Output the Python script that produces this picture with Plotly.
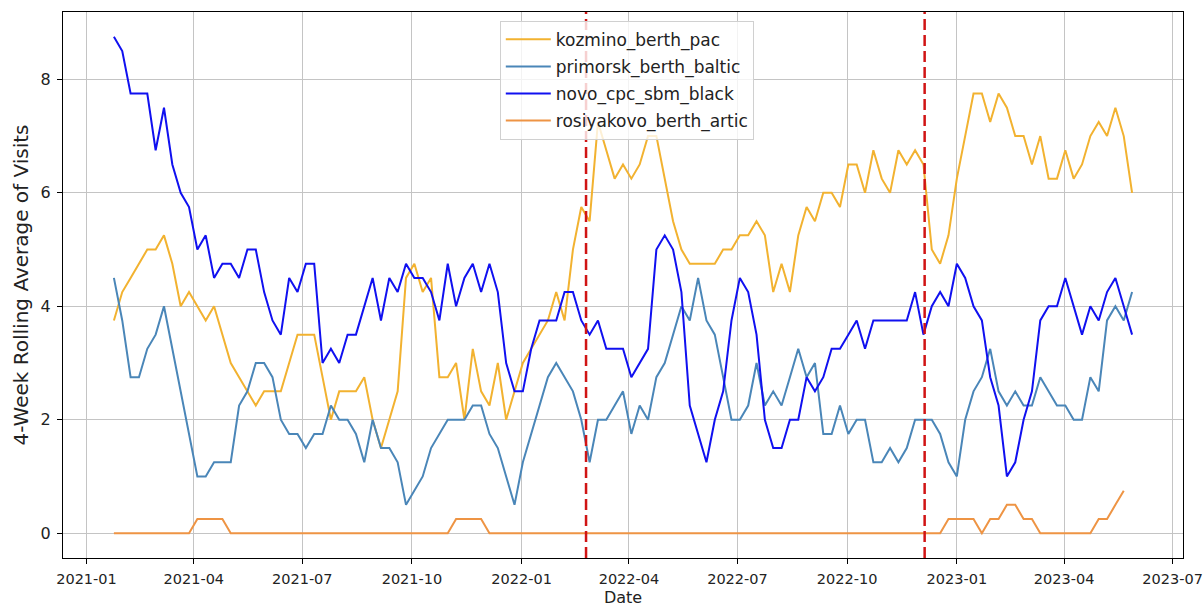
import pandas as pd
import plotly.graph_objects as go

# Weekly 4-week rolling average of berth visits, one point per Sunday
dates = pd.date_range("2021-01-24", "2023-05-28", freq="7D")

kozmino_berth_pac = [
    3.75, 4.25, 4.5, 4.75, 5.0, 5.0, 5.25, 4.75, 4.0, 4.25, 4.0, 3.75, 4.0, 3.5, 3.0, 2.75, 2.5, 2.25,
    2.5, 2.5, 2.5, 3.0, 3.5, 3.5, 3.5, 2.75, 2.0, 2.5, 2.5, 2.5, 2.75, 2.0, 1.5, 2.0, 2.5, 4.5, 4.75, 4.25, 4.5, 2.75, 2.75,
    3.0, 2.0, 3.25, 2.5, 2.25, 3.0, 2.0, 2.5, 3.0, 3.25, 3.5, 3.75, 4.25, 3.75, 5.0, 5.75, 5.5, 7.25, 6.75, 6.25, 6.5, 6.25, 6.5,
    7.0, 7.0, 6.25, 5.5, 5.0, 4.75, 4.75, 4.75, 4.75, 5.0, 5.0, 5.25, 5.25, 5.5, 5.25, 4.25, 4.75, 4.25, 5.25, 5.75, 5.5, 6.0, 6.0,
    5.75, 6.5, 6.5, 6.0, 6.75, 6.25, 6.0, 6.75, 6.5, 6.75, 6.5, 5.0, 4.75, 5.25, 6.25, 7.0, 7.75, 7.75, 7.25, 7.75, 7.5, 7.0,
    7.0, 6.5, 7.0, 6.25, 6.25, 6.75, 6.25, 6.5, 7.0, 7.25, 7.0, 7.5, 7.0, 6.0,
]

primorsk_berth_baltic = [
    4.5, 3.75, 2.75, 2.75, 3.25, 3.5, 4.0, 3.25, 2.5, 1.75, 1.0, 1.0, 1.25, 1.25, 1.25, 2.25, 2.5, 3.0,
    3.0, 2.75, 2.0, 1.75, 1.75, 1.5, 1.75, 1.75, 2.25, 2.0, 2.0, 1.75, 1.25, 2.0, 1.5, 1.5, 1.25, 0.5, 0.75, 1.0, 1.5, 1.75, 2.0,
    2.0, 2.0, 2.25, 2.25, 1.75, 1.5, 1.0, 0.5, 1.25, 1.75, 2.25, 2.75, 3.0, 2.75, 2.5, 2.0, 1.25, 2.0, 2.0, 2.25, 2.5, 1.75, 2.25,
    2.0, 2.75, 3.0, 3.5, 4.0, 3.75, 4.5, 3.75, 3.5, 2.75, 2.0, 2.0, 2.25, 3.0, 2.25, 2.5, 2.25, 2.75, 3.25, 2.75, 3.0, 1.75, 1.75,
    2.25, 1.75, 2.0, 2.0, 1.25, 1.25, 1.5, 1.25, 1.5, 2.0, 2.0, 2.0, 1.75, 1.25, 1.0, 2.0, 2.5, 2.75, 3.25, 2.5, 2.25, 2.5,
    2.25, 2.25, 2.75, 2.5, 2.25, 2.25, 2.0, 2.0, 2.75, 2.5, 3.75, 4.0, 3.75, 4.25,
]

novo_cpc_sbm_black = [
    8.75, 8.5, 7.75, 7.75, 7.75, 6.75, 7.5, 6.5, 6.0, 5.75, 5.0, 5.25, 4.5, 4.75, 4.75, 4.5, 5.0, 5.0,
    4.25, 3.75, 3.5, 4.5, 4.25, 4.75, 4.75, 3.0, 3.25, 3.0, 3.5, 3.5, 4.0, 4.5, 3.75, 4.5, 4.25, 4.75, 4.5, 4.5, 4.25, 3.75, 4.75,
    4.0, 4.5, 4.75, 4.25, 4.75, 4.25, 3.0, 2.5, 2.5, 3.25, 3.75, 3.75, 3.75, 4.25, 4.25, 3.75, 3.5, 3.75, 3.25, 3.25, 3.25, 2.75, 3.0,
    3.25, 5.0, 5.25, 5.0, 4.25, 2.25, 1.75, 1.25, 2.0, 2.5, 3.75, 4.5, 4.25, 3.5, 2.0, 1.5, 1.5, 2.0, 2.0, 2.75, 2.5, 2.75, 3.25,
    3.25, 3.5, 3.75, 3.25, 3.75, 3.75, 3.75, 3.75, 3.75, 4.25, 3.5, 4.0, 4.25, 4.0, 4.75, 4.5, 4.0, 3.75, 2.75, 2.25, 1.0, 1.25,
    2.0, 2.5, 3.75, 4.0, 4.0, 4.5, 4.0, 3.5, 4.0, 3.75, 4.25, 4.5, 4.0, 3.5,
]

rosiyakovo_berth_artic = [
    0, 0, 0, 0, 0, 0, 0, 0, 0, 0, 0.25, 0.25, 0.25, 0.25, 0, 0, 0, 0,
    0, 0, 0, 0, 0, 0, 0, 0, 0, 0, 0, 0, 0, 0, 0, 0, 0, 0, 0, 0, 0, 0, 0,
    0.25, 0.25, 0.25, 0.25, 0, 0, 0, 0, 0, 0, 0, 0, 0, 0, 0, 0, 0, 0, 0, 0, 0, 0, 0,
    0, 0, 0, 0, 0, 0, 0, 0, 0, 0, 0, 0, 0, 0, 0, 0, 0, 0, 0, 0, 0, 0, 0,
    0, 0, 0, 0, 0, 0, 0, 0, 0, 0, 0, 0, 0, 0.25, 0.25, 0.25, 0.25, 0, 0.25, 0.25, 0.5,
    0.5, 0.25, 0.25, 0, 0, 0, 0, 0, 0, 0, 0.25, 0.25, 0.5, 0.75,
]

series = [
    ("kozmino_berth_pac", kozmino_berth_pac, "#F2B230"),
    ("primorsk_berth_baltic", primorsk_berth_baltic, "#4A86B8"),
    ("novo_cpc_sbm_black", novo_cpc_sbm_black, "#1010F0"),
    ("rosiyakovo_berth_artic", rosiyakovo_berth_artic, "#EE9444"),
]

# Event markers (invasion of Ukraine, EU crude embargo)
event_dates = ["2022-02-24", "2022-12-05"]

x_ticks = ["2021-01-01", "2021-04-01", "2021-07-01", "2021-10-01", "2022-01-01", "2022-04-01",
           "2022-07-01", "2022-10-01", "2023-01-01", "2023-04-01", "2023-07-01"]
y_ticks = [0, 2, 4, 6, 8]

fig = go.Figure()
for name, vals, color in series:
    fig.add_trace(go.Scatter(
        x=dates, y=vals, mode="lines", name=name, legendgroup=name,
        line=dict(color=color, width=2),
    ))

for d in event_dates:
    fig.add_shape(type="line", xref="x", yref="paper", x0=d, x1=d, y0=0, y1=1,
                  line=dict(color="#D01414", width=2.5, dash="11px,5px"))

span = dates[-1] - dates[0]
pad = span * 0.05
all_vals = kozmino_berth_pac + primorsk_berth_baltic + novo_cpc_sbm_black + rosiyakovo_berth_artic
ymin, ymax = min(all_vals), max(all_vals)
ypad = (ymax - ymin) * 0.05

font = "DejaVu Sans"
fig.update_layout(
    width=1203, height=607,
    margin=dict(l=63, r=20, t=12, b=49),
    paper_bgcolor="white", plot_bgcolor="white",
    font=dict(family=font, size=15, color="#222222"),
    showlegend=True,
    legend=dict(
        x=0.390, y=0.984, xanchor="left", yanchor="top",
        bgcolor="rgba(255,255,255,0.8)", bordercolor="#d0d0d0", borderwidth=1,
        font=dict(family=font, size=17, color="#222222"),
        tracegroupgap=2, itemwidth=45,
    ),
    xaxis=dict(
        range=[dates[0] - pad, dates[-1] + pad],
        tickmode="array", tickvals=x_ticks, tickformat="%Y-%m",
        showgrid=True, gridcolor="#c4c4c4", gridwidth=1,
        showline=True, linecolor="black", linewidth=1, mirror=True,
        ticks="outside", ticklen=5, tickcolor="black",
        zeroline=False, ticklabeloverflow="allow", automargin=False,
        ticklabelstandoff=3,
        title=dict(text="Date", standoff=6, font=dict(size=16)),
        tickfont=dict(size=14.5),
    ),
    yaxis=dict(
        range=[ymin - ypad, ymax + ypad],
        tickmode="array", tickvals=y_ticks,
        showgrid=True, gridcolor="#c4c4c4", gridwidth=1,
        showline=True, linecolor="black", linewidth=1, mirror=True,
        ticks="outside", ticklen=5, tickcolor="black",
        zeroline=False, automargin=False, ticklabelstandoff=3,
        title=dict(text="4-Week Rolling Average of Visits", standoff=6, font=dict(size=20)),
        tickfont=dict(size=16),
    ),
)

fig.write_html("out.html")
